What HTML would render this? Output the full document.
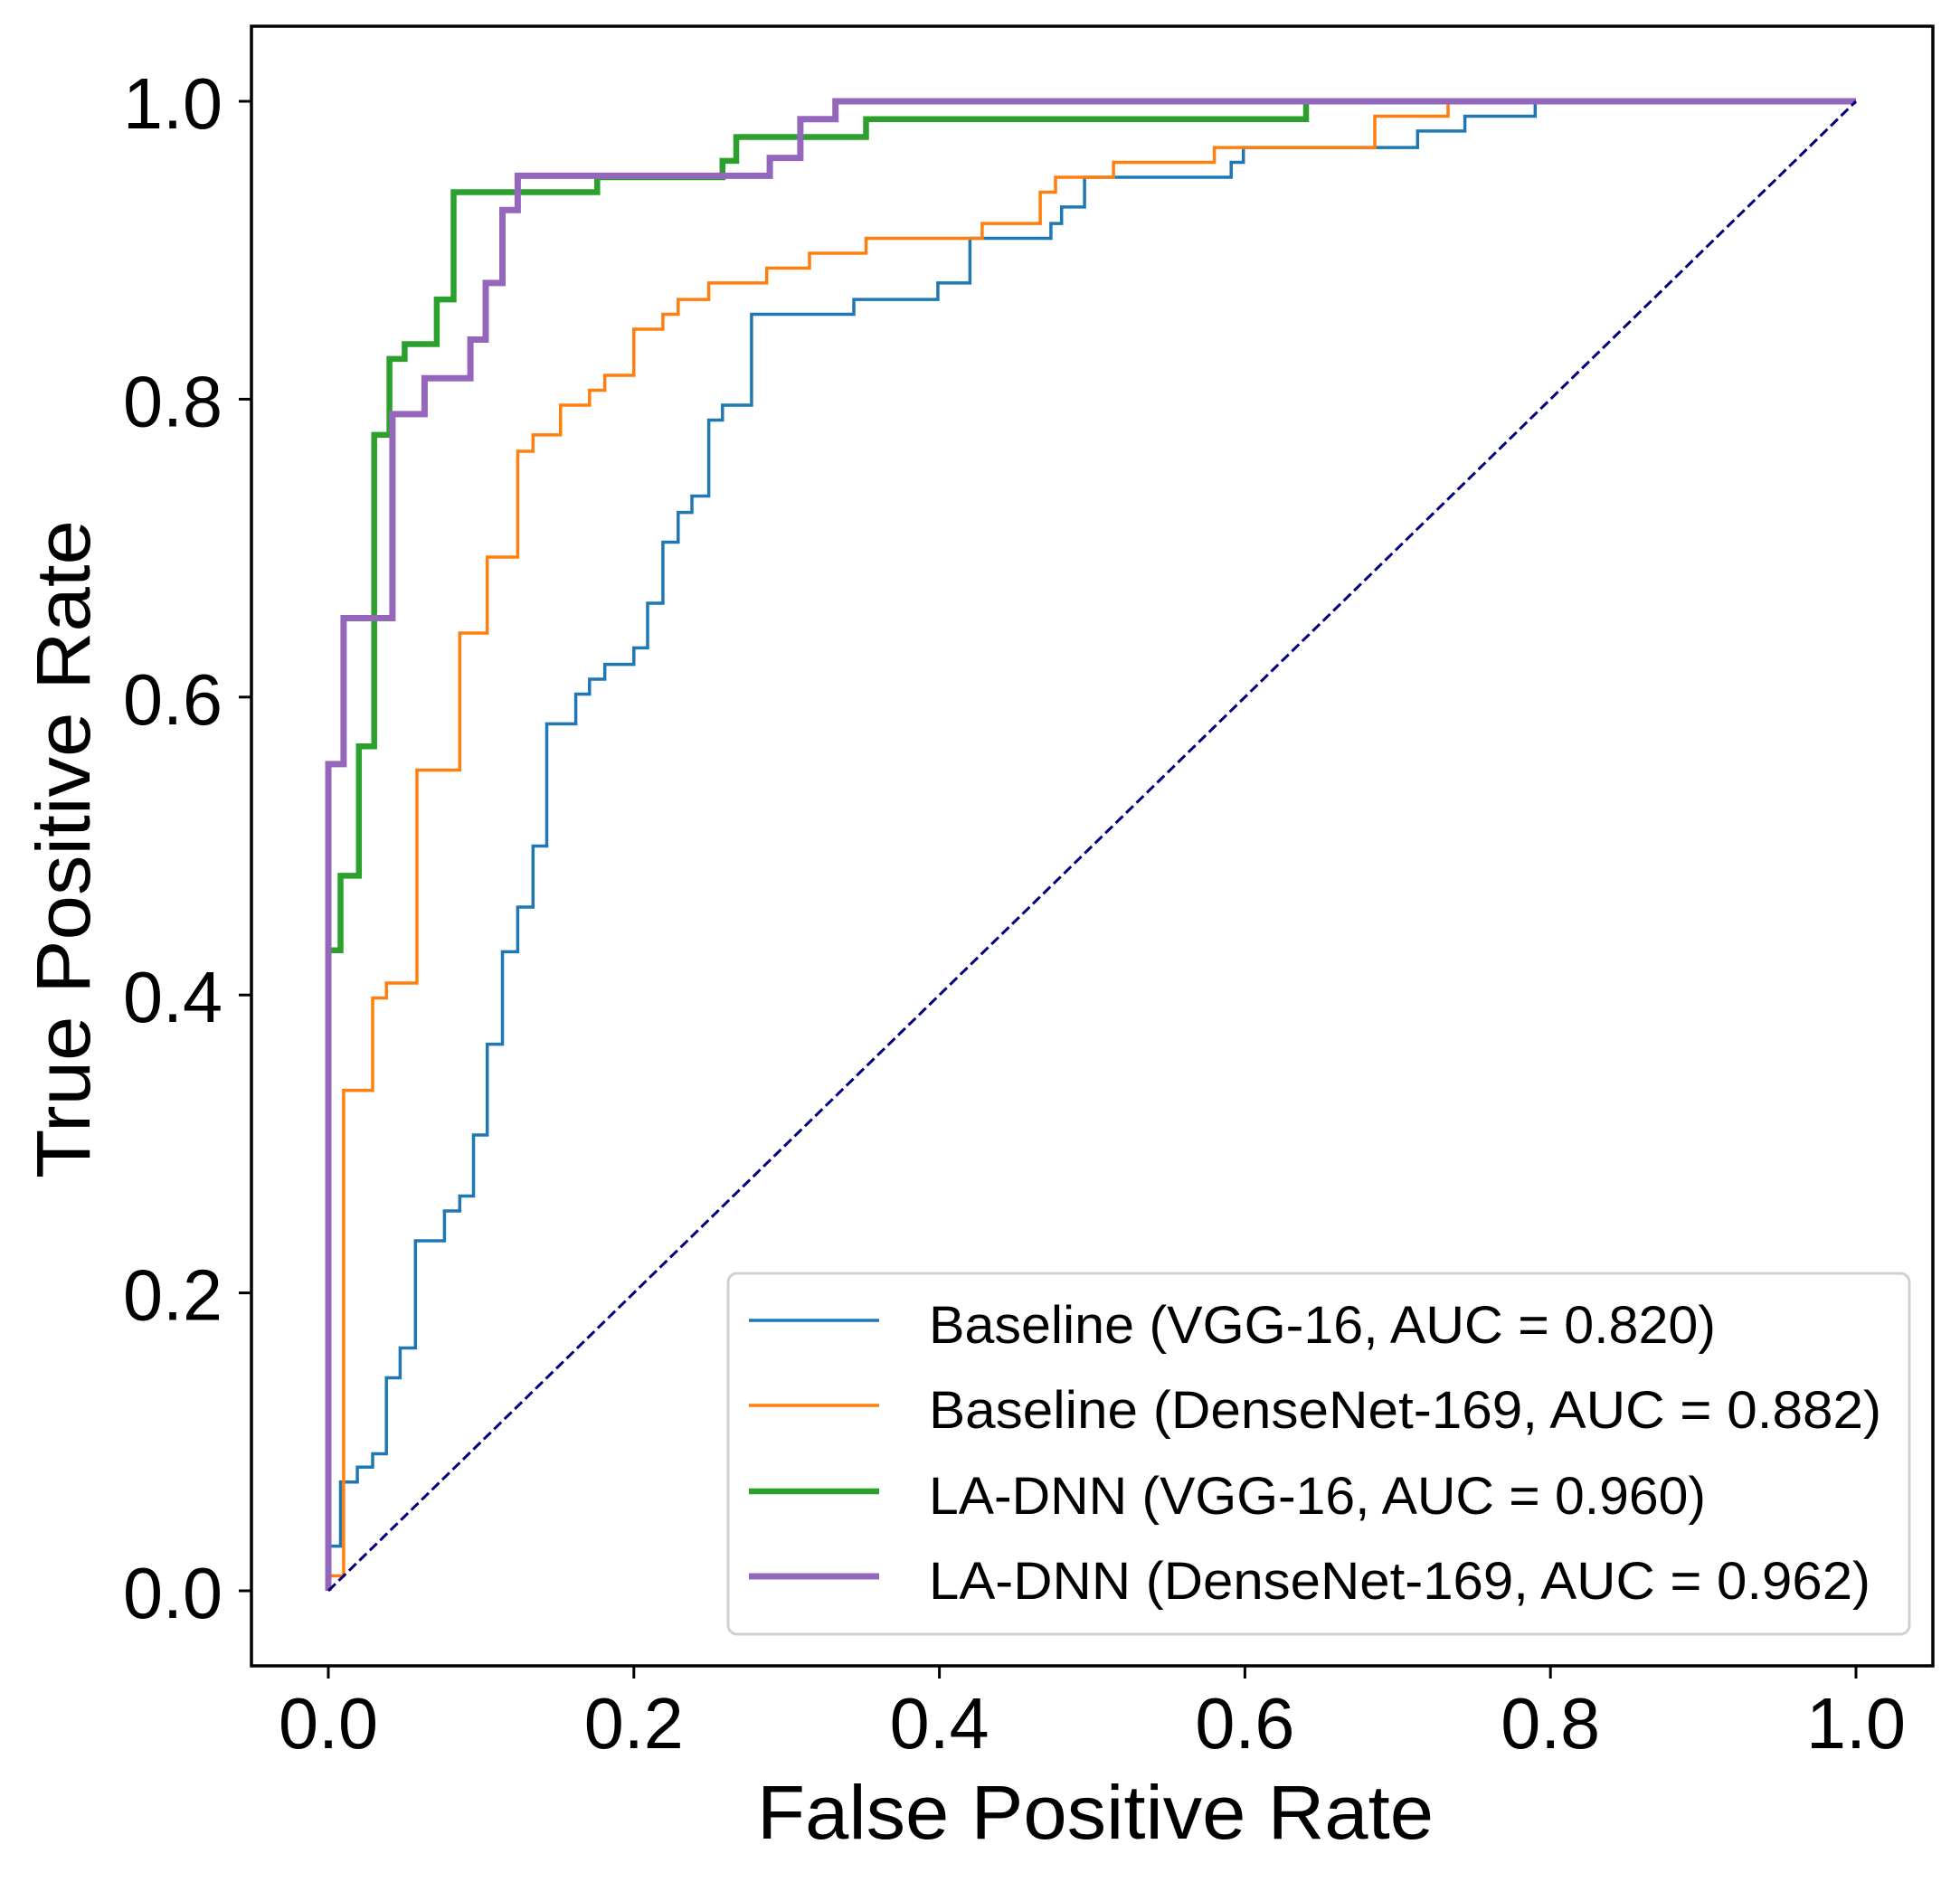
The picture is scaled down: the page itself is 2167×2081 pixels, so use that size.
<!DOCTYPE html>
<html><head><meta charset="utf-8"><style>
html,body{margin:0;padding:0;background:#fff}
svg{display:block}
text{font-family:"Liberation Sans",sans-serif;fill:#000}
</style></head><body>
<svg id="chart" width="2167" height="2081" viewBox="0 0 2167 2081" xmlns="http://www.w3.org/2000/svg">
<rect width="2167" height="2081" fill="#fff"/>
<g id="plot"></g>
<g id="axes"></g>
<g id="legend"></g>
</svg>
<script>
const xTicks = [0.0, 0.2, 0.4, 0.6, 0.8, 1.0];
const yTicks = [0.0, 0.2, 0.4, 0.6, 0.8, 1.0];
const tickLabels = ["0.0", "0.2", "0.4", "0.6", "0.8", "1.0"];
const seriesNames = ["Baseline (VGG-16, AUC = 0.820)", "Baseline (DenseNet-169, AUC = 0.882)", "LA-DNN (VGG-16, AUC = 0.960)", "LA-DNN (DenseNet-169, AUC = 0.962)"];
// ROC points: [fpr, tpr] corners of step curves
const baselineVgg = [[0,0],[0,0.03],[0.008,0.03],[0.008,0.073],[0.019,0.073],[0.019,0.083],[0.029,0.083],[0.029,0.092],[0.038,0.092],[0.038,0.143],[0.047,0.143],[0.047,0.163],[0.057,0.163],[0.057,0.235],[0.076,0.235],[0.076,0.255],[0.086,0.255],[0.086,0.265],[0.095,0.265],[0.095,0.306],[0.104,0.306],[0.104,0.367],[0.114,0.367],[0.114,0.429],[0.124,0.429],[0.124,0.459],[0.134,0.459],[0.134,0.5],[0.143,0.5],[0.143,0.582],[0.162,0.582],[0.162,0.602],[0.171,0.602],[0.171,0.612],[0.181,0.612],[0.181,0.622],[0.2,0.622],[0.2,0.633],[0.209,0.633],[0.209,0.663],[0.219,0.663],[0.219,0.704],[0.229,0.704],[0.229,0.724],[0.238,0.724],[0.238,0.735],[0.249,0.735],[0.249,0.786],[0.258,0.786],[0.258,0.796],[0.277,0.796],[0.277,0.857],[0.344,0.857],[0.344,0.867],[0.399,0.867],[0.399,0.878],[0.42,0.878],[0.42,0.908],[0.473,0.908],[0.473,0.918],[0.48,0.918],[0.48,0.929],[0.495,0.929],[0.495,0.949],[0.591,0.949],[0.591,0.959],[0.599,0.959],[0.599,0.969],[0.713,0.969],[0.713,0.98],[0.744,0.98],[0.744,0.99],[0.79,0.99],[0.79,1],[1,1]];
const baselineDense = [[0,0],[0,0.01],[0.01,0.01],[0.01,0.336],[0.029,0.336],[0.029,0.398],[0.038,0.398],[0.038,0.408],[0.058,0.408],[0.058,0.551],[0.086,0.551],[0.086,0.643],[0.104,0.643],[0.104,0.694],[0.124,0.694],[0.124,0.765],[0.134,0.765],[0.134,0.776],[0.152,0.776],[0.152,0.796],[0.171,0.796],[0.171,0.806],[0.181,0.806],[0.181,0.816],[0.2,0.816],[0.2,0.847],[0.219,0.847],[0.219,0.857],[0.229,0.857],[0.229,0.867],[0.249,0.867],[0.249,0.878],[0.287,0.878],[0.287,0.888],[0.315,0.888],[0.315,0.898],[0.352,0.898],[0.352,0.908],[0.428,0.908],[0.428,0.918],[0.466,0.918],[0.466,0.939],[0.476,0.939],[0.476,0.949],[0.514,0.949],[0.514,0.959],[0.58,0.959],[0.58,0.969],[0.685,0.969],[0.685,0.99],[0.733,0.99],[0.733,1],[1,1]];
const ladnnVgg = [[0,0],[0,0.43],[0.008,0.43],[0.008,0.48],[0.02,0.48],[0.02,0.567],[0.03,0.567],[0.03,0.776],[0.04,0.776],[0.04,0.827],[0.05,0.827],[0.05,0.837],[0.071,0.837],[0.071,0.867],[0.082,0.867],[0.082,0.939],[0.176,0.939],[0.176,0.949],[0.258,0.949],[0.258,0.96],[0.267,0.96],[0.267,0.976],[0.352,0.976],[0.352,0.988],[0.64,0.988],[0.64,1],[1,1]];
const ladnnDense = [[0,0],[0,0.555],[0.01,0.555],[0.01,0.653],[0.042,0.653],[0.042,0.79],[0.063,0.79],[0.063,0.814],[0.093,0.814],[0.093,0.84],[0.103,0.84],[0.103,0.878],[0.114,0.878],[0.114,0.927],[0.124,0.927],[0.124,0.95],[0.289,0.95],[0.289,0.962],[0.309,0.962],[0.309,0.988],[0.332,0.988],[0.332,1],[1,1]];
const diagonal = [[0,0],[1,1]];

const NS = "http://www.w3.org/2000/svg";
const X0 = 363, X1 = 2052, Y0 = 1759, Y1 = 112;
function sx(v){ return X0 + v*(X1-X0); }
function sy(v){ return Y0 - v*(Y0-Y1); }
function mk(tag, attrs, parent){ const e = document.createElementNS(NS, tag); for (const k in attrs) e.setAttribute(k, attrs[k]); parent.appendChild(e); return e; }
const plot = document.getElementById('plot');
const axes = document.getElementById('axes');
const legend = document.getElementById('legend');

function pathOf(pts){ return pts.map((p,i)=>(i?'L':'M')+sx(p[0]).toFixed(1)+' '+sy(p[1]).toFixed(1)).join(' '); }

const series = [
  {data: baselineVgg, color:'#1f77b4', w:3.5, name:'series-baseline-vgg16'},
  {data: baselineDense, color:'#ff7f0e', w:3.5, name:'series-baseline-densenet169'},
  {data: ladnnVgg, color:'#2ca02c', w:6.5, name:'series-ladnn-vgg16'},
  {data: ladnnDense, color:'#9467bd', w:7, name:'series-ladnn-densenet169'}
];
series.forEach(s=>{
  const p = mk('path', {d: pathOf(s.data), fill:'none', stroke:s.color, 'stroke-width':s.w, 'stroke-linejoin':'miter', 'stroke-linecap':'butt'}, plot);
  
  
});
const dg = mk('path', {d: pathOf(diagonal), fill:'none', stroke:'#000080', 'stroke-width':3, 'stroke-dasharray':'11 5'}, plot);



// frame
const fr = mk('rect', {x:278, y:29, width:1859, height:1813, fill:'none', stroke:'#000', 'stroke-width':3.5}, axes);



xTicks.forEach((v,i)=>{
  const t = mk('line', {x1:sx(v), x2:sx(v), y1:1842, y2:1856, stroke:'#000', 'stroke-width':3}, axes);
  
  
  const l = mk('text', {x:sx(v), y:1933, 'font-size':80, 'text-anchor':'middle', textLength:110, lengthAdjust:'spacingAndGlyphs'}, axes);
  l.textContent = tickLabels[i];
  
  
});
yTicks.forEach((v,i)=>{
  const t = mk('line', {x1:264, x2:278, y1:sy(v), y2:sy(v), stroke:'#000', 'stroke-width':3}, axes);
  
  
  const l = mk('text', {x:136, y:sy(v)+30, 'font-size':80, textLength:110, lengthAdjust:'spacingAndGlyphs'}, axes);
  l.textContent = tickLabels[i];
  
  
});
const xt = mk('text', {x:1211, y:2033, 'font-size':84, 'text-anchor':'middle', textLength:748, lengthAdjust:'spacingAndGlyphs'}, axes);
xt.textContent = 'False Positive Rate';


const yt = mk('text', {x:0, y:0, 'font-size':84, 'text-anchor':'middle', textLength:728, lengthAdjust:'spacingAndGlyphs', transform:'translate(99,939) rotate(-90)'}, axes);
yt.textContent = 'True Positive Rate';



// legend
const lb = mk('rect', {x:805, y:1408, width:1306, height:399, rx:10, ry:10, fill:'#fff', 'fill-opacity':0.8, stroke:'#d0d0d0', 'stroke-width':3}, legend);


const legY = [1460, 1554, 1649, 1743];
const legW = [870, 1053, 859, 1041];
series.forEach((s,i)=>{
  const ln = mk('line', {x1:828, x2:972, y1:legY[i], y2:legY[i], stroke:s.color, 'stroke-width':s.w}, legend);
  
  
  const tx = mk('text', {x:1027, y:legY[i]+25, 'font-size':58, textLength:legW[i], lengthAdjust:'spacingAndGlyphs'}, legend);
  tx.textContent = seriesNames[i];
  
  
});
</script>
</body></html>
